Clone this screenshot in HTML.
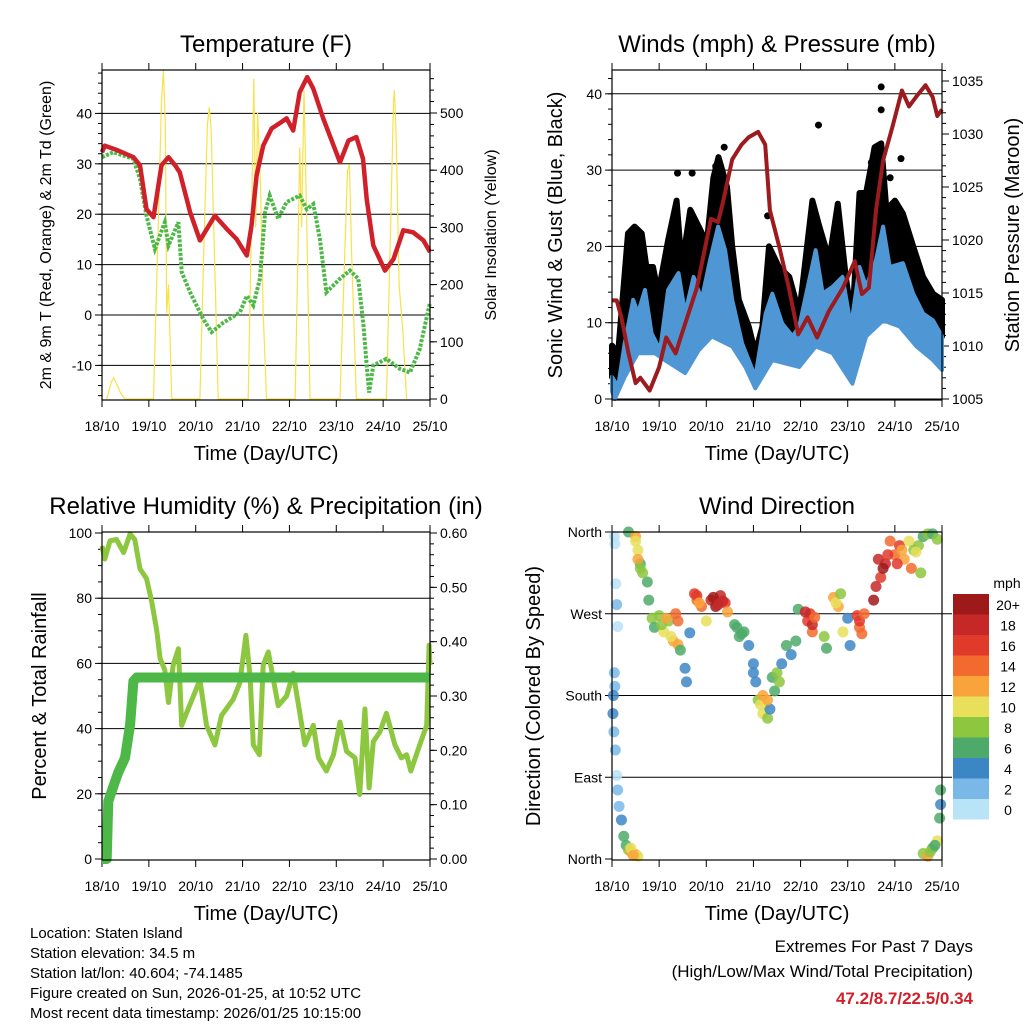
<!DOCTYPE html>
<html><head><meta charset="utf-8"><style>
body{margin:0;background:#fff;}
svg{display:block;font-family:"Liberation Sans",sans-serif;}
</style></head><body>
<svg id="c" width="1024" height="1024" viewBox="0 0 1024 1024">
<g id="g1"></g>
<g id="g2"></g>
<g id="g3"></g>
<g id="g4"></g>
<g id="txt" font-size="15">
<text x="30" y="938">Location: Staten Island</text>
<text x="30" y="958">Station elevation: 34.5 m</text>
<text x="30" y="978">Station lat/lon: 40.604; -74.1485</text>
<text x="30" y="998">Figure created on Sun, 2026-01-25, at 10:52 UTC</text>
<text x="30" y="1018">Most recent data timestamp: 2026/01/25 10:15:00</text>
<text x="973" y="952" text-anchor="end" font-size="17">Extremes For Past 7 Days</text>
<text x="973" y="977" text-anchor="end" font-size="17">(High/Low/Max Wind/Total Precipitation)</text>
<text x="973" y="1004" text-anchor="end" font-size="17" font-weight="bold" fill="#d0202a">47.2/8.7/22.5/0.34</text>
</g>
</svg>
<script>
const dayLabels=["18/10","19/10","20/10","21/10","22/10","23/10","24/10","25/10"];
// Temperature
const tT=[0,0.06,0.3,0.67,0.81,0.95,1.1,1.27,1.42,1.56,1.66,1.88,2.09,2.41,2.66,2.87,3.09,3.19,3.3,3.44,3.62,3.83,3.94,4.08,4.22,4.38,4.51,4.72,5.08,5.26,5.43,5.57,5.65,5.79,6.04,6.22,6.43,6.64,6.86,7.0];
const tempV=[32.3,33.6,32.8,31.3,29.7,21,19.4,29.7,31.3,29.7,28.3,20.4,14.8,19.7,17.1,15.1,11.8,17.7,27.7,33.6,37,38.3,39,36.6,44.2,47.2,44.9,39,30.3,34.6,35.3,31,23,13.8,8.8,11.1,16.8,16.4,14.8,12.5];
const tdT=[0,0.24,0.67,0.81,0.95,1.13,1.34,1.42,1.63,1.7,1.88,2.16,2.34,2.59,2.94,3.09,3.23,3.37,3.48,3.58,3.76,3.94,4.22,4.37,4.51,4.65,4.79,5.08,5.29,5.47,5.58,5.65,5.7,5.79,6.07,6.36,6.57,6.78,7.0];
const tdV=[31.3,32.3,31,27,19.7,13.1,18.4,13.8,18.4,8.5,4.5,-0.8,-3.4,-1.5,0.5,3.8,1.9,7.2,20.4,23.7,19.1,22.4,23.7,21,22,15.1,4.5,7.2,8.8,7.2,-2.1,-10,-15.4,-10,-8.7,-10.7,-11.4,-6.8,2.5];
const sunT=[0.1,0.2,0.25,0.32,0.4,0.49,1.1,1.2,1.27,1.31,1.35,1.38,1.42,1.49,2.09,2.18,2.25,2.29,2.33,2.4,2.48,3.12,3.2,3.24,3.28,3.32,3.38,3.44,3.51,4.12,4.18,4.22,4.26,4.31,4.36,4.44,5.08,5.18,5.24,5.28,5.33,5.43,6.07,6.16,6.22,6.24,6.28,6.34,6.42,6.5];
const sunV=[0,30,37,25,10,0,0,300,520,575,480,150,200,0,0,280,480,510,470,250,0,0,350,560,300,500,380,150,0,0,250,440,300,540,350,0,0,250,400,410,250,0,0,300,520,540,450,200,120,0];
// Winds
const wT=[0,0.13,0.34,0.48,0.63,0.73,0.87,0.98,1.19,1.37,1.48,1.66,1.84,2.01,2.15,2.26,2.44,2.55,2.69,2.9,3.04,3.19,3.33,3.54,3.76,3.97,4.25,4.4,4.61,4.79,4.96,5.1,5.25,5.39,5.57,5.71,5.82,6.0,6.17,6.39,6.6,6.81,7.0];
const gustHigh=[7,6,21.7,22.6,21.7,17.3,17.3,13.8,20.8,26,17.3,24.8,22.6,20.4,29,31.7,27.8,20,13,9.5,6,9.5,20,17.3,16,11.2,26,22.6,18.2,25.6,16,10.3,27,27,33,33.5,24.8,26,24.3,20,16,13.8,13];
const gustDotT=[5.71,5.71,4.38,6.13,2.38,1.39,1.7,0.05,2.2,3.3,5.5,5.9];
const gustDotV=[40.9,37.9,35.9,31.5,33,29.6,29.6,5.5,30.5,24,31,29];
const bT=[0,0.13,0.27,0.45,0.55,0.7,0.84,1.02,1.19,1.41,1.55,1.73,1.9,2.08,2.25,2.4,2.55,2.76,3.04,3.26,3.4,3.61,3.83,3.97,4.32,4.47,4.68,4.89,5.07,5.25,5.39,5.6,5.75,5.89,6.17,6.39,6.6,6.81,7.0];
const windHigh=[2.9,1.6,7.3,13,11.2,14.3,8.6,6.4,14.3,16.5,11.2,16,13,18.2,22.6,19.5,13,7.3,2.9,11.2,13.8,9.9,8.2,9.5,19.5,13.8,14.7,16,9.5,17.3,14.7,18.2,22.6,17.3,17.8,13.8,11.2,10.3,8.2];
const lT=[0,0.06,0.27,0.55,0.91,1.12,1.55,1.84,2.12,2.55,2.83,3.04,3.4,3.97,4.32,4.68,5.1,5.39,5.75,6.1,6.46,6.81,7.0];
const windLow=[1,0,2.9,6,6,5.1,3.4,6.4,8.2,6.9,4.2,1.4,5.1,4.2,6.9,6,2,8.2,10.3,9.5,6.9,5.1,3.8];
const pT=[0,0.1,0.2,0.35,0.5,0.6,0.8,1.0,1.15,1.35,1.5,1.8,2.1,2.25,2.35,2.55,2.75,2.9,3.1,3.25,3.35,3.55,3.75,3.95,4.15,4.35,4.6,4.9,5.15,5.3,5.45,5.6,5.75,5.95,6.15,6.3,6.45,6.65,6.8,6.9,7.0];
const presV=[1014.3,1014.3,1012.7,1009.3,1006.5,1007,1005.8,1008,1010.8,1009.3,1011.4,1015.5,1022,1021.7,1023.5,1027.6,1029,1029.7,1030.2,1029,1022.8,1019.3,1015.5,1011.1,1012.7,1010.8,1013.3,1015.5,1018,1014.9,1015.5,1022.8,1027.5,1030.7,1034.1,1032.6,1033.5,1034.6,1033.5,1031.7,1032.3];
// RH & precip
const rhT=[0,0.06,0.17,0.31,0.46,0.6,0.7,0.81,0.95,1.06,1.17,1.24,1.34,1.42,1.52,1.63,1.7,1.81,1.98,2.09,2.23,2.41,2.55,2.8,2.94,3.07,3.16,3.23,3.36,3.44,3.55,3.62,3.76,3.94,4.08,4.22,4.33,4.51,4.62,4.79,4.94,5.08,5.22,5.4,5.5,5.61,5.7,5.79,5.93,6.07,6.25,6.39,6.5,6.59,6.78,6.93,6.98,7.0];
const rhV=[96,92,97.6,98,94,99.7,98,89,86,79,70,61.5,58,48,59.5,64.5,41,45,51,55,41,35,44,49,54,68.6,56,35,32,59.5,63.5,58,47,50,57,45,35,41,31,27,32,42,33,31,19.8,46,21.8,36,39,44.7,35,31,32,27,35,41,65.6,59.5];
const prT=[0,0.1,0.135,0.28,0.35,0.49,0.6,0.67,0.74,7.0];
const prV=[0,0,0.106,0.143,0.16,0.186,0.247,0.327,0.334,0.334];
// Wind direction
const wdT=[0.05,0.06,0.08,0.1,0.12,0.05,0.06,0.03,0.02,0.04,0.07,0.1,0.12,0.15,0.2,0.25,0.3,0.35,0.4,0.45,0.5,0.55,0.35,0.5,0.55,0.6,0.75,0.78,0.85,0.9,1.0,1.1,1.2,1.3,1.35,1.4,1.45,1.55,1.58,1.65,1.75,1.8,1.9,2.0,2.1,2.2,2.3,2.4,2.45,2.6,2.7,2.8,2.9,3.0,3.05,3.1,3.2,3.25,3.3,3.35,3.4,3.45,3.5,3.6,3.7,3.8,3.9,3.95,4.15,4.2,4.25,4.5,4.55,4.7,4.8,4.9,5.0,5.05,5.2,5.25,5.3,5.55,5.65,5.7,5.8,5.9,6.0,6.1,6.2,6.3,6.4,6.5,6.6,6.7,6.8,6.9,6.6,6.7,6.8,6.9,6.95,6.97,6.97,0.5,0.55,0.6,0.65,1.05,1.15,1.25,1.4,1.8,1.85,2.15,2.25,2.35,2.65,2.75,3.0,3.15,3.2,3.3,3.55,4.1,4.25,4.3,4.75,4.85,5.25,5.35,5.6,5.75,5.85,6.05,6.15,6.35,6.45,6.55,0.4,0.45,6.75,6.85];
const wdD=[355,347,303,280,256,205,190,180,160,140,120,92,76,58,43,25,15,10,8,6,5,3,360,355,340,325,305,285,265,255,268,250,262,240,270,236,230,210,195,249,292,285,278,262,285,278,290,282,272,258,245,250,235,215,195,175,160,170,155,165,200,185,205,215,235,225,240,275,262,270,250,245,232,288,278,250,265,235,268,255,248,285,330,310,325,350,335,345,330,350,340,345,355,358,358,352,6,3,12,20,45,60,76,350,330,320,315,258,265,245,262,290,282,288,280,284,255,248,205,170,180,175,195,272,258,266,282,292,262,270,300,320,335,325,340,320,338,315,12,4,8,15];
const wdS=[1,1,0,2,1,3,3,4,4,3,2,1,2,3,5,6,7,9,12,11,12,10,7,12,11,7,6,7,8,6,9,11,8,13,15,13,6,5,4,5,16,15,14,10,19,20,18,17,12,7,6,7,4,4,5,9,11,10,8,5,6,7,8,4,6,5,7,6,17,16,15,8,7,13,12,10,4,4,16,15,14,20,19,17,18,14,15,16,13,10,9,8,7,9,6,8,9,12,7,10,6,5,6,11,13,9,8,8,12,10,14,17,12,20,18,19,7,6,4,10,12,13,8,18,19,14,11,9,17,15,19,20,16,17,13,15,10,8,10,12,9,7];
const spdColors=["#b9e3f7","#7ab8e8","#3d86c6","#4daa6a","#8dc63f","#e8df5a","#f9a43a","#f26a2e","#e03a2a","#c62828","#9e1a1a"];
const spdLabels=["0","2","4","6","8","10","12","14","16","18","20+"];

const NS="http://www.w3.org/2000/svg";
function mk(tag,attrs,parent){const e=document.createElementNS(NS,tag);for(const k in attrs)e.setAttribute(k,attrs[k]);parent.appendChild(e);return e;}
function txt(parent,x,y,s,size,anchor,rot){const e=mk("text",{x:x,y:y,"font-size":size,"text-anchor":anchor||"middle"},parent);if(rot)e.setAttribute("transform","rotate(-90 "+x+" "+y+")");e.textContent=s;return e;}
function sc(d0,d1,r0,r1){return v=>r0+(v-d0)/(d1-d0)*(r1-r0);}
function linePts(xs,ys,fx,fy){return xs.map((t,i)=>fx(t).toFixed(1)+","+fy(ys[i]).toFixed(1)).join(" ");}

function frame(g,x0,x1,y0,y1,title){
  const x=sc(0,7,x0,x1);
  dayLabels.forEach((l,i)=>{
    const tk=mk("line",{x1:x(i),x2:x(i),y1:y1,y2:y1+7,stroke:"#000"},g);
    
    
    const tk2=mk("line",{x1:x(i),x2:x(i),y1:y0,y2:y0-7,stroke:"#000"},g);
    
    
    const t=txt(g,x(i),y1+31,l,14);
    
    
  });
  const tt=txt(g,(x0+x1)/2,y0-18,title,24);
  
  
  const xl=txt(g,(x0+x1)/2,y1+60,"Time (Day/UTC)",20);
  
  
  return x;
}
function box(g,x0,x1,y0,y1){
  const r=mk("rect",{x:x0,y:y0,width:x1-x0,height:y1-y0,fill:"none",stroke:"#000","stroke-width":1.2},g);
  
  
}
function yaxis(g,side,xpos,y,ticks,labels,grid,x0,x1,minorStep,dmin,dmax){
  ticks.forEach((v,i)=>{
    const yy=y(v);
    if(grid){const gl=mk("line",{x1:x0,x2:x1,y1:yy,y2:yy,stroke:"#000","stroke-width":1},g);
      
      }
    const dx=side<0?-7:7;
    mk("line",{x1:xpos,x2:xpos+dx,y1:yy,y2:yy,stroke:"#000"},g);
    const t=txt(g,xpos+(side<0?-10:10),yy+5,labels[i],14,side<0?"end":"start");
    
    
  });
  if(minorStep){for(let v=Math.ceil(dmin/minorStep)*minorStep;v<=dmax;v+=minorStep){const yy=y(v);mk("line",{x1:xpos,x2:xpos+(side<0?-4:4),y1:yy,y2:yy,stroke:"#000"},g);}}
}

// Panel 1
(function(){
  const g=document.getElementById("g1");const X0=102,X1=430,Y0=70,Y1=400;
  const x=frame(g,X0,X1,Y0,Y1,"Temperature (F)");
  const y=sc(0,10,315,264.6);const ys=sc(0,100,399,341.8);
  yaxis(g,-1,X0,y,[-10,0,10,20,30,40],["-10","0","10","20","30","40"],true,X0,X1,2,-16,48);
  yaxis(g,1,X1,ys,[0,100,200,300,400,500],["0","100","200","300","400","500"],false,0,0,20,0,570);
  const sun=mk("polyline",{points:linePts(sunT,sunV,x,v=>Math.max(Y0,ys(v))),fill:"none",stroke:"#f7e24a","stroke-width":1.2},g);
  
  
  const td=mk("polyline",{points:linePts(tdT,tdV,x,y),fill:"none",stroke:"#4db848","stroke-width":4,"stroke-dasharray":"3 1.5"},g);
  
  
  const tl=mk("polyline",{points:linePts(tT,tempV,x,y),fill:"none",stroke:"#d0202a","stroke-width":4.5,"stroke-linejoin":"round"},g);
  
  
  box(g,X0,X1,Y0,Y1);
  const a=txt(g,51,235,"2m & 9m T (Red, Orange) & 2m Td (Green)",16,"middle",true);
  
  
  const b=txt(g,496,235,"Solar Insolation (Yellow)",16,"middle",true);
  
  
})();

// Panel 2
(function(){
  const g=document.getElementById("g2");const X0=612,X1=942,Y0=70,Y1=400;
  const x=frame(g,X0,X1,Y0,Y1,"Winds (mph) & Pressure (mb)");
  const y=sc(0,10,399,322.7);const yp=sc(1005,1035,399,81);
  yaxis(g,-1,X0,y,[0,10,20,30,40],["0","10","20","30","40"],true,X0,X1,2,0,43);
  yaxis(g,1,X1,yp,[1005,1010,1015,1020,1025,1030,1035],["1005","1010","1015","1020","1025","1030","1035"],false,0,0,1,1005,1036);
  const gh=linePts(wT,gustHigh,x,y);const bh=linePts(bT,windHigh,x,y).split(" ").reverse().join(" ");
  const gp=mk("polygon",{points:gh+" "+bh,fill:"#000",stroke:"#000","stroke-width":6,"stroke-linejoin":"round"},g);
  
  
  gustDotT.forEach((t,i)=>{const d=mk("circle",{cx:x(t),cy:y(gustDotV[i]),r:3.5,fill:"#000"},g);
    
    });
  const bl=linePts(lT,windLow,x,y).split(" ").reverse().join(" ");
  const bp=mk("polygon",{points:linePts(bT,windHigh,x,y)+" "+bl,fill:"#4f97d4",stroke:"#4f97d4","stroke-width":4,"stroke-linejoin":"round"},g);
  
  
  const pl=mk("polyline",{points:linePts(pT,presV,x,yp),fill:"none",stroke:"#9b1b1e","stroke-width":4,"stroke-linejoin":"round"},g);
  
  
  box(g,X0,X1,Y0,Y1);
  const a=txt(g,562,235,"Sonic Wind & Gust (Blue, Black)",20,"middle",true);
  
  
  const b=txt(g,1019,235,"Station Pressure (Maroon)",20,"middle",true);
  
  
})();

// Panel 3
(function(){
  const g=document.getElementById("g3");const X0=102,X1=430,Y0=532,Y1=860;
  const x=frame(g,X0,X1,Y0,Y1,"Relative Humidity (%) & Precipitation (in)");
  const y=sc(0,100,859,533);const yp=sc(0,0.6,859,533);
  yaxis(g,-1,X0,y,[0,20,40,60,80,100],["0","20","40","60","80","100"],false,0,0,5,0,100);
  [20,40,60,80].forEach(v=>{const l=mk("line",{x1:X0,x2:X1,y1:y(v),y2:y(v),stroke:"#000"},g);
    
    });
  yaxis(g,1,X1,yp,[0,0.1,0.2,0.3,0.4,0.5,0.6],["0.00","0.10","0.20","0.30","0.40","0.50","0.60"],false,0,0,0.02,0,0.6);
  const rh=mk("polyline",{points:linePts(rhT,rhV,x,y),fill:"none",stroke:"#8dc63f","stroke-width":5,"stroke-linejoin":"round"},g);
  
  
  const pr=mk("polyline",{points:linePts(prT,prV,x,yp),fill:"none",stroke:"#4db848","stroke-width":10,"stroke-linejoin":"round"},g);
  
  
  box(g,X0,X1,Y0,Y1);
  const a=txt(g,46,696,"Percent & Total Rainfall",20,"middle",true);
  
  
})();

// Panel 4
(function(){
  const g=document.getElementById("g4");const X0=612,X1=942,Y0=532,Y1=860;
  const x=frame(g,X0,X1,Y0,Y1,"Wind Direction");
  const y=sc(0,360,859,532);
  yaxis(g,-1,X0,y,[0,90,180,270,360],["North","East","South","West","North"],false,0,0,0,0,0);
  [90,180,270].forEach(v=>{const l=mk("line",{x1:X0,x2:X1+10,y1:y(v),y2:y(v),stroke:"#000"},g);
    
    });
  wdT.forEach((t,i)=>{const c=spdColors[Math.min(10,Math.floor(wdS[i]/2))];
    const d=mk("circle",{cx:x(t),cy:y(wdD[i]),r:5.5,fill:c,"fill-opacity":0.85},g);
    
    });
  box(g,X0,X1,Y0,Y1);
  const a=txt(g,540,696,"Direction (Colored By Speed)",20,"middle",true);
  
  
  const lg=mk("g",{},g);
  
  
  txt(lg,1007,588,"mph",14);
  spdColors.forEach((c,i)=>{const yy=799-i*20.5;
    const r=mk("rect",{x:953,y:yy,width:36,height:20.5,fill:c},lg);
    
    
    const t=txt(lg,1008,yy+16,spdLabels[i],14);
    
    });
})();
</script>
</body></html>
